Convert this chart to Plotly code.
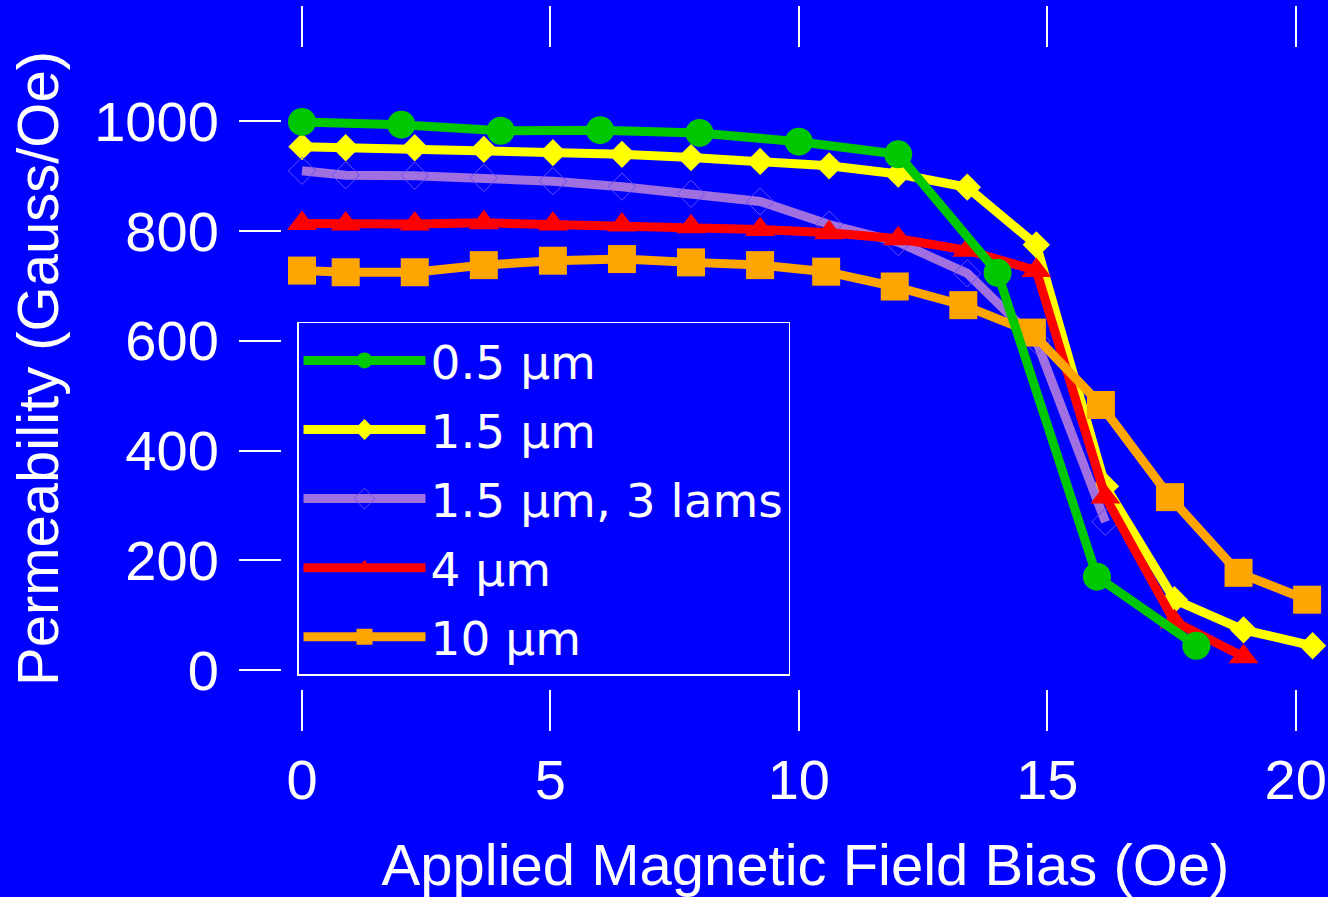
import plotly.graph_objects as go

# ---- data ----
x_05 = [0, 2, 4, 6, 8, 10, 12, 14, 16, 18]
y_05 = [999, 994, 983, 984, 979, 963, 940, 724, 170, 44]

x_15 = [0, 0.88, 2.27, 3.66, 5.05, 6.44, 7.83, 9.22, 10.61, 12.0, 13.39, 14.78, 16.17, 17.56, 18.95, 20.34]
y_15 = [954, 952, 952, 949, 943, 940, 934, 927, 919, 904, 880, 775, 335, 128, 73, 44]

x_15_3lams = [0, 0.88, 2.27, 3.66, 5.05, 6.44, 7.83, 9.22, 10.61, 12.0, 13.39, 14.78, 16.17]
y_15_3lams = [910, 902, 901, 897, 891, 881, 868, 854, 812, 780, 723, 600, 270]

x_4 = [0, 0.88, 2.27, 3.66, 5.05, 6.44, 7.83, 9.22, 10.61, 12.0, 13.39, 14.78, 16.17, 17.56, 18.95]
y_4 = [814, 813, 813, 815, 813, 811, 808, 803, 797, 786, 765, 728, 315, 88, 24]

x_10 = [0, 0.88, 2.27, 3.66, 5.05, 6.44, 7.83, 9.22, 10.55, 11.93, 13.31, 14.69, 16.08, 17.47, 18.85, 20.23]
y_10 = [728, 725, 725, 738, 746, 749, 743, 738, 726, 699, 665, 615, 483, 315, 177, 128]

names = ["0.5 µm", "1.5 µm", "1.5 µm, 3 lams", "4 µm", "10 µm"]
x_ticks = [0, 5, 10, 15, 20]
y_ticks = [0, 200, 400, 600, 800, 1000]

BG = "#0000FF"
WHITE = "#FFFFFF"
AXFONT = "Liberation Sans, Arial, sans-serif"

fig = go.Figure()

series = [
    # x, y, name, color, symbol, marker size, marker line color, marker line width, filled, zorder
    (x_05, y_05, names[0], "#00C800", "circle", 28, "#00C800", 0, True, 5),
    (x_15, y_15, names[1], "#FFFF00", "diamond", 21, "#FFFF00", 0, True, 1),
    (x_15_3lams, y_15_3lams, names[2], "#A070E0", "diamond-open", 21, "#6A4FF0", 1, False, 2),
    (x_4, y_4, names[3], "#FF0000", "triangle-up", 26, "#FF0000", 0, True, 3),
    (x_10, y_10, names[4], "#FFA500", "square", 28, "#FFA500", 0, True, 4),
]

for xs, ys, nm, col, sym, ms, mlc, mlw, filled, z in series:
    fig.add_trace(go.Scatter(
        x=xs, y=ys, name=nm, mode="lines+markers",
        line=dict(color=col, width=9),
        marker=dict(symbol=sym, size=ms,
                    color=col if filled else mlc,
                    line=dict(color=mlc, width=mlw)),
        legendgroup=nm,
        zorder=z,
    ))

fig.update_layout(
    width=1328, height=897,
    paper_bgcolor=BG, plot_bgcolor=BG,
    margin=dict(l=283, r=0, t=49, b=209, autoexpand=False),
    font=dict(family=AXFONT, color=WHITE, size=56),
    showlegend=True,
    legend=dict(
        x=0.0134, y=0.573, xanchor="left", yanchor="top",
        bgcolor=BG, bordercolor=WHITE, borderwidth=1.5,
        font=dict(family="DejaVu Sans, sans-serif", size=47, color=WHITE),
        itemwidth=122, tracegroupgap=5, traceorder="grouped",
    ),
    xaxis=dict(
        range=[-0.382, 20.65], tickvals=x_ticks,
        showgrid=False, zeroline=False,
        showline=True, linecolor=WHITE, linewidth=2, mirror="ticks",
        ticks="outside", ticklen=41, tickwidth=2, tickcolor=WHITE,
        tickfont=dict(family=AXFONT, size=56, color=WHITE),
        ticklabelstandoff=1,
        title=dict(text="Applied Magnetic Field Bias (Oe)",
                   font=dict(family=AXFONT, size=58, color=WHITE), standoff=43),
    ),
    yaxis=dict(
        range=[-33, 1132], tickvals=y_ticks,
        showgrid=False, zeroline=False,
        showline=True, linecolor=WHITE, linewidth=2, mirror=False,
        ticks="outside", ticklen=42, tickwidth=2, tickcolor=WHITE,
        tickfont=dict(family=AXFONT, size=56, color=WHITE),
        ticklabelstandoff=9,
        title=dict(text="Permeability (Gauss/Oe)",
                   font=dict(family=AXFONT, size=58, color=WHITE), standoff=17),
    ),
)

fig.write_html(
    "out.html",
    config={"displayModeBar": False},
    post_script="document.body.style.margin='0';document.body.style.background='#0000FF';",
)
